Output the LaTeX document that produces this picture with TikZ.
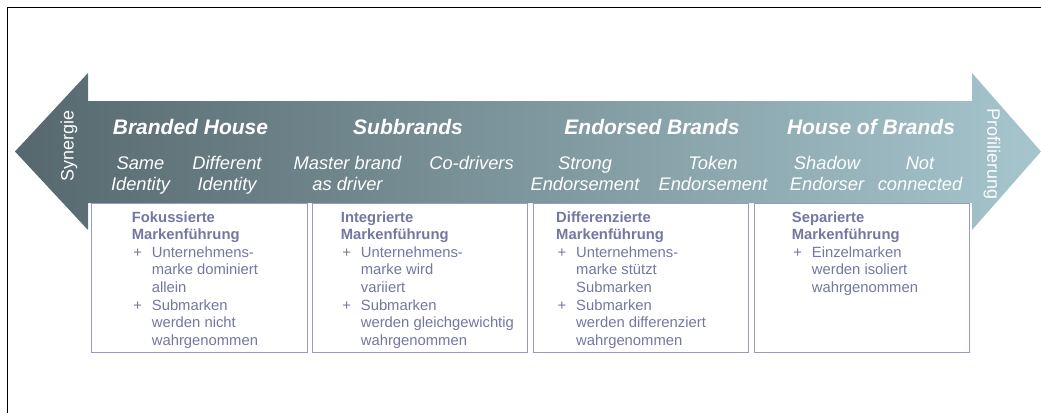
\documentclass[tikz,border=0pt]{standalone}
\usepackage{fontspec}
\setmainfont{Liberation Sans}
\begin{document}
\definecolor{arrowdark}{RGB}{86,104,110}
\definecolor{arrowlight}{RGB}{166,197,205}
\definecolor{boxline}{RGB}{152,154,190}
\definecolor{boxtext}{RGB}{116,119,162}
\tikzset{
  head/.style={text=white,font=\fontsize{21}{24}\selectfont\bfseries\itshape,inner sep=0pt,anchor=base},
  sub/.style={text=white,font=\fontsize{18.3}{21}\selectfont\itshape,inner sep=0pt,anchor=base,align=center},
  side/.style={text=white!95!arrowlight,font=\fontsize{18}{20}\selectfont,inner sep=0pt},
  panel/.style={draw=boxline,line width=1.1pt,fill=white,rectangle},
  paneltext/.style={text=boxtext,font=\fontsize{14.8}{17.6}\selectfont,inner sep=0pt,anchor=base west}
}
\newcommand\ttl[1]{\hbox{\bfseries #1}}
\newcommand\itm[1]{\hbox{\makebox[20pt][l]{\hspace*{1.5pt}+}#1}}
\newcommand\cnt[1]{\hbox{\hspace*{20pt}#1}}
\begin{tikzpicture}[x=1pt,y=-1pt]
\useasboundingbox (0,0) rectangle (1041,413);
% outer frame (top and left edges)
\draw[line width=1.8pt] (7.5,413) -- (7.5,7.5) -- (1041,7.5);
% double-headed band
\shade[left color=arrowdark,right color=arrowlight]
  (15,151.5) -- (88,73) -- (88,101) -- (972,101) -- (972,73) -- (1041,151.5)
  -- (972,230) -- (972,203) -- (88,203) -- (88,230) -- cycle;
% side labels
\node[side,rotate=90] (syn) at (69,146) {Synergie};
\node[side,rotate=-90] (prof) at (992,154) {Profilierung};
% architecture headings
\node[head] (bh) at (190.5,134) {Branded House};
\node[head] (sb) at (408,134) {Subbrands};
\node[head] (eb) at (652,134) {Endorsed Brands};
\node[head] (hb) at (871,134) {House of Brands};
% sub-options (base anchor sits on the last line)
\node[sub] (s1) at (140.5,190) {Same\\Identity};
\node[sub] (s2) at (227,190) {Different\\Identity};
\node[sub] (s3) at (347.5,190) {Master brand\\as driver};
\node[sub] (s4) at (471.5,169) {Co-drivers};
\node[sub] (s5) at (585,190) {Strong\\Endorsement};
\node[sub] (s6) at (713,190) {Token\\Endorsement};
\node[sub] (s7) at (827,190) {Shadow\\Endorser};
\node[sub] (s8) at (920,190) {Not\\connected};
% description panels
\node[panel,minimum width=216pt,minimum height=149pt,anchor=north west] (p1) at (91,203) {};
\node[panel,minimum width=215pt,minimum height=149pt,anchor=north west] (p2) at (312,203) {};
\node[panel,minimum width=215pt,minimum height=149pt,anchor=north west] (p3) at (533,203) {};
\node[panel,minimum width=215pt,minimum height=149pt,anchor=north west] (p4) at (754,203) {};
\node[paneltext] (t1) at (131.7,222) {\vtop{\ttl{Fokussierte}\ttl{Markenführung}%
  \itm{Unternehmens-}\cnt{marke dominiert}\cnt{allein}%
  \itm{Submarken}\cnt{werden nicht}\cnt{wahrgenommen}}};
\node[paneltext] (t2) at (340.7,222) {\vtop{\ttl{Integrierte}\ttl{Markenführung}%
  \itm{Unternehmens-}\cnt{marke wird}\cnt{variiert}%
  \itm{Submarken}\cnt{werden gleichgewichtig}\cnt{wahrgenommen}}};
\node[paneltext] (t3) at (556,222) {\vtop{\ttl{Differenzierte}\ttl{Markenführung}%
  \itm{Unternehmens-}\cnt{marke stützt}\cnt{Submarken}%
  \itm{Submarken}\cnt{werden differenziert}\cnt{wahrgenommen}}};
\node[paneltext] (t4) at (791.7,222) {\vtop{\ttl{Separierte}\ttl{Markenführung}%
  \itm{Einzelmarken}\cnt{werden isoliert}\cnt{wahrgenommen}}};
\end{tikzpicture}
\end{document}
